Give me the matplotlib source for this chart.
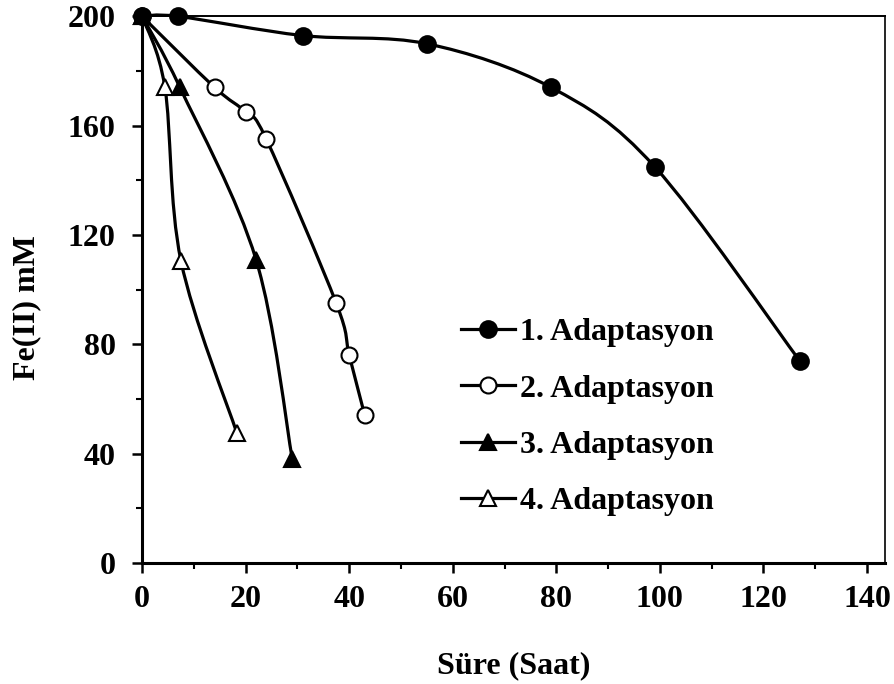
import numpy as np
import matplotlib
matplotlib.use("Agg")
import matplotlib.pyplot as plt
from matplotlib.path import Path
from matplotlib.patches import PathPatch
from matplotlib.lines import Line2D
from matplotlib.ticker import MultipleLocator

plt.rcParams['font.family'] = 'Liberation Serif'
plt.rcParams['font.weight'] = 'bold'
plt.rcParams['font.size'] = 23

# data
x1 = [0, 7, 31, 55, 79, 99, 127]
y1 = [200, 200, 193, 190, 174, 145, 74]
x2 = [0, 14, 20, 24, 37.5, 40, 43]
y2 = [200, 174, 165, 155, 95, 76, 54]
x3 = [0, 7.3, 22, 29]
y3 = [200, 174, 111, 38]
x4 = [0, 4.4, 7.5, 18.3]
y4 = [200, 174, 110.5, 47.5]
labels = ['1. Adaptasyon', '2. Adaptasyon', '3. Adaptasyon', '4. Adaptasyon']


def smooth_path(x, y):
    # Excel-like smoothed line: Catmull-Rom segments as cubic Bezier curves
    p = np.column_stack([x, y]).astype(float)
    n = len(p)
    verts = [p[0]]
    codes = [Path.MOVETO]
    for i in range(n - 1):
        p0 = p[i - 1] if i > 0 else p[i]
        p3 = p[i + 2] if i + 2 < n else p[i + 1]
        c1 = p[i] + (p[i + 1] - p0) / 6.0
        c2 = p[i + 1] - (p3 - p[i]) / 6.0
        verts += [c1, c2, p[i + 1]]
        codes += [Path.CURVE4] * 3
    return Path(verts, codes)


fig = plt.figure(figsize=(8.94, 6.84), dpi=100)
ax = fig.add_axes([0.159, 0.177, 0.831, 0.799])

series = [
    (x1, y1, dict(marker='o', markerfacecolor='black', markersize=12)),
    (x2, y2, dict(marker='o', markerfacecolor='white', markersize=11.5)),
    (x3, y3, dict(marker='^', markerfacecolor='black', markersize=12)),
    (x4, y4, dict(marker='^', markerfacecolor='white', markersize=12)),
]

handles = []
for i, ((x, y, st), lab) in enumerate(zip(series, labels)):
    z = 10 - 2 * i  # first series drawn on top
    ax.add_patch(PathPatch(smooth_path(x, y), facecolor='none', edgecolor='black',
                           lw=2.3, zorder=z, clip_on=False))
    ax.plot(x, y, linestyle='none', markeredgecolor='black', markeredgewidth=1.5,
            zorder=z + 1, clip_on=False, **st)
    handles.append(Line2D([], [], color='black', lw=2.3, markeredgecolor='black',
                          markeredgewidth=1.5, **st))

ax.set_xlim(0, 143.5)
ax.set_ylim(0, 200)
ax.xaxis.set_major_locator(MultipleLocator(20))
ax.xaxis.set_minor_locator(MultipleLocator(10))
ax.yaxis.set_major_locator(MultipleLocator(40))
ax.yaxis.set_minor_locator(MultipleLocator(20))
ax.tick_params(which='major', direction='out', length=7, width=1.8, pad=9)
ax.tick_params(which='minor', direction='out', length=4.5, width=1.5)
ax.tick_params(axis='y', which='major', pad=12)

ax.spines['left'].set_linewidth(2.2)
ax.spines['bottom'].set_linewidth(2.2)
ax.spines['top'].set_linewidth(1.4)
ax.spines['right'].set_linewidth(1.2)

ax.set_xlabel('Süre (Saat)', fontweight='bold', labelpad=27)
ax.set_ylabel('Fe(II) mM', fontweight='bold')
ax.yaxis.set_label_coords(-0.136, 0.468)

ax.legend(handles, labels, loc='upper left', bbox_to_anchor=(0.429, 0.448),
          frameon=False, handlelength=1.69, handletextpad=0.16,
          labelspacing=0.84, borderpad=0, borderaxespad=0)

fig.savefig('out.png', dpi=100)
